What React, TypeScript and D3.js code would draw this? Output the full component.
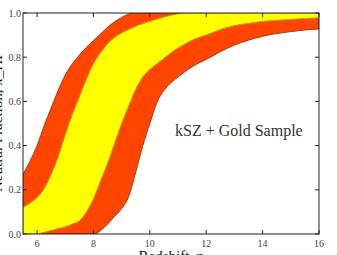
import React, { useEffect, useRef } from "react";
import * as d3 from "d3";

// redshift grid shared by all four band edges
const zGrid = [
  5.5, 5.75, 6, 6.25, 6.5, 6.75, 7, 7.25, 7.5, 7.75, 8, 8.25, 8.5, 8.75, 9, 9.25,
  9.5, 9.75, 10, 10.25, 10.5, 10.75, 11, 11.25, 11.5, 11.75, 12, 12.5, 13, 13.5,
  14, 14.5, 15, 15.5, 16,
];

// 2 sigma upper edge
const red_hi = [
  0.27, 0.33, 0.4, 0.49, 0.57, 0.65, 0.72, 0.77, 0.81, 0.845, 0.875, 0.905, 0.935,
  0.96, 0.98, 0.995, 1, 1, 1, 1, 1, 1, 1, 1, 1, 1, 1, 1, 1, 1, 1, 1, 1, 1, 1,
];
// 1 sigma upper edge
const yellow_hi = [
  0.12, 0.14, 0.165, 0.205, 0.27, 0.35, 0.45, 0.54, 0.62, 0.7, 0.77, 0.82, 0.86,
  0.89, 0.91, 0.925, 0.94, 0.952, 0.962, 0.972, 0.982, 0.99, 0.997, 1, 1, 1, 1,
  1, 1, 1, 1, 1, 1, 1, 1,
];
// 1 sigma lower edge
const yellow_lo = [
  0, 0, 0, 0.008, 0.016, 0.025, 0.033, 0.045, 0.06, 0.1, 0.16, 0.24, 0.32, 0.41,
  0.5, 0.58, 0.655, 0.71, 0.745, 0.77, 0.795, 0.82, 0.842, 0.86, 0.877, 0.89,
  0.9, 0.925, 0.943, 0.953, 0.962, 0.967, 0.971, 0.975, 0.978,
];
// 2 sigma lower edge
const red_lo = [
  0, 0, 0, 0, 0, 0, 0, 0, 0, 0, 0, 0.015, 0.045, 0.08, 0.115, 0.17, 0.28, 0.4,
  0.5, 0.595, 0.65, 0.685, 0.71, 0.735, 0.757, 0.775, 0.79, 0.825, 0.855, 0.877,
  0.895, 0.907, 0.916, 0.923, 0.928,
];

const xTicks = [6, 8, 10, 12, 14, 16];
const yTicks = [0, 0.2, 0.4, 0.6, 0.8, 1.0];

const W = 337;
const H = 255;
const margin = { left: 23, right: 18, top: 13, bottom: 21 };

const App = () => {
  const svgRef = useRef<SVGSVGElement>(null);

  useEffect(() => {
    document.body.style.margin = "0";
    const svg = d3.select(svgRef.current);
    svg.selectAll("*").remove();

    const x = d3.scaleLinear().domain([5.5, 16]).range([margin.left, W - margin.right]);
    const y = d3.scaleLinear().domain([0, 1]).range([H - margin.bottom, margin.top]);

    svg
      .append("defs")
      .append("clipPath")
      .attr("id", "plotclip")
      .append("rect")
      .attr("x", x(5.5))
      .attr("y", y(1))
      .attr("width", x(16) - x(5.5))
      .attr("height", y(0) - y(1));

    const band = (hi: number[], lo: number[]) =>
      d3
        .area<number>()
        .x((d) => x(d))
        .y0((_, i) => y(lo[i]))
        .y1((_, i) => y(hi[i]))
        .curve(d3.curveMonotoneX)(zGrid);

    const plot = svg.append("g").attr("clip-path", "url(#plotclip)");

    plot
      .append("path")
      .attr("d", band(red_hi, red_lo))
      .attr("fill", "#ff4500")
      .attr("stroke", "#a8380f")
      .attr("stroke-width", 1);

    plot
      .append("path")
      .attr("d", band(yellow_hi, yellow_lo))
      .attr("fill", "#ffff00")
      .attr("stroke", "#b0a400")
      .attr("stroke-width", 1);

    // frame
    svg
      .append("rect")
      .attr("x", x(5.5))
      .attr("y", y(1))
      .attr("width", x(16) - x(5.5))
      .attr("height", y(0) - y(1))
      .attr("fill", "none")
      .attr("stroke", "#222")
      .attr("stroke-width", 1);

    const tickLen = 4;
    const ticks = svg.append("g").attr("stroke", "#222").attr("stroke-width", 1);
    xTicks.forEach((t) => {
      ticks.append("line").attr("x1", x(t)).attr("x2", x(t)).attr("y1", y(0)).attr("y2", y(0) - tickLen);
      ticks.append("line").attr("x1", x(t)).attr("x2", x(t)).attr("y1", y(1)).attr("y2", y(1) + tickLen);
    });
    yTicks.forEach((t) => {
      ticks.append("line").attr("x1", x(5.5)).attr("x2", x(5.5) + tickLen).attr("y1", y(t)).attr("y2", y(t));
      ticks.append("line").attr("x1", x(16)).attr("x2", x(16) - tickLen).attr("y1", y(t)).attr("y2", y(t));
    });

    const font = "'Liberation Serif', 'DejaVu Serif', serif";

    svg
      .append("g")
      .selectAll("text")
      .data(xTicks)
      .join("text")
      .attr("x", (d) => x(d))
      .attr("y", y(0) + 13)
      .attr("text-anchor", "middle")
      .attr("font-family", font)
      .attr("font-size", 10)
      .attr("fill", "#444")
      .text((d) => d);

    svg
      .append("g")
      .selectAll("text")
      .data(yTicks)
      .join("text")
      .attr("x", x(5.5) - 2)
      .attr("y", (d) => y(d) + 3.5)
      .attr("text-anchor", "end")
      .attr("font-family", font)
      .attr("font-size", 10)
      .attr("fill", "#444")
      .text((d) => d.toFixed(1));

    // axis titles sit partly outside the picture, as in the original figure
    svg
      .append("text")
      .attr("x", (x(5.5) + x(16)) / 2)
      .attr("y", H + 6)
      .attr("text-anchor", "middle")
      .attr("font-family", font)
      .attr("font-size", 15)
      .attr("fill", "#111")
      .text("Redshift, z");

    svg
      .append("text")
      .attr("transform", `translate(2, ${(y(0) + y(1)) / 2}) rotate(-90)`)
      .attr("text-anchor", "middle")
      .attr("font-family", font)
      .attr("font-size", 15)
      .attr("fill", "#111")
      .text("Neutral Fraction, x_HI");

    svg
      .append("text")
      .attr("x", 175)
      .attr("y", 136)
      .attr("font-family", font)
      .attr("font-size", 16)
      .attr("fill", "#333")
      .text("kSZ + Gold Sample");
  }, []);

  return <svg ref={svgRef} width={W} height={H} style={{ display: "block" }}></svg>;
};

export default App;
